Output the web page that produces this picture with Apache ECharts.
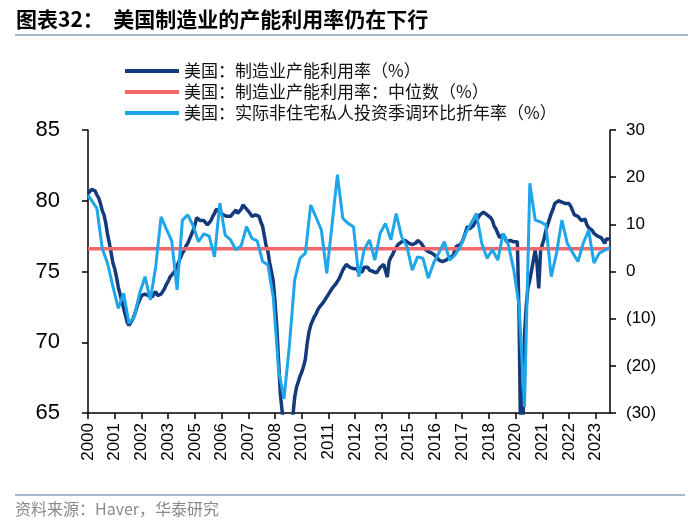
<!DOCTYPE html>
<html><head><meta charset="utf-8">
<script src="https://cdn.jsdelivr.net/npm/echarts@6/dist/echarts.min.js"></script>
<style>html,body{margin:0;padding:0;background:#fff}#c{width:700px;height:529px}</style>
</head><body><div id="c"></div>
<script>
// Monthly categories: 2000-01 .. 2024-06
const startYear = 2000;
const monthCount = 294;

// 美国：制造业产能利用率（%）, monthly, 2000-01 .. 2024-06
const capUtil = [
  80.5, 80.6, 80.8, 80.9, 80.7, 80.4, 80.2, 79.8, 79.3, 79.0, 78.4, 77.6,
  77.0, 76.3, 75.6, 75.2, 74.6, 73.9, 73.4, 72.9, 72.4, 71.9, 71.4, 71.2,
  71.3, 71.6, 71.9, 72.3, 72.7, 73.0, 73.3, 73.2, 73.4, 73.5, 73.3, 73.2,
  73.2, 73.4, 73.6, 73.3, 73.2, 73.4, 73.6, 73.8, 74.1, 74.3, 74.6, 74.7,
  74.9, 75.1, 75.4, 75.7, 76.0, 76.3, 76.5, 76.8, 77.0, 77.3, 77.6, 77.9,
  78.3, 78.8, 78.7, 78.6, 78.5, 78.6, 78.5, 78.3, 78.2, 78.6, 78.9, 79.1,
  79.4, 79.5, 79.2, 79.1, 79.0, 79.0, 78.9, 78.8, 78.9, 79.0, 79.2, 79.35,
  79.1, 79.2, 79.4, 79.7, 79.6, 79.4, 79.3, 79.1, 78.9, 78.9, 79.0, 79.1,
  78.9, 78.5, 78.2, 77.5, 76.8, 76.4, 75.6, 75.0, 74.3, 72.8, 71.0, 68.6,
  66.3, 65.1, 64.2, 63.7, 63.4, 63.5, 64.0, 64.8, 66.1, 66.8, 67.2, 67.6,
  67.9, 68.3, 68.8, 69.9, 70.7, 71.2, 71.5, 71.8, 72.0, 72.3, 72.5, 72.6,
  72.8, 72.9, 73.2, 73.4, 73.5, 73.8, 73.9, 74.1, 74.3, 74.5, 74.8, 75.1,
  75.3, 75.5, 75.4, 75.3, 75.3, 75.2, 75.1, 75.2, 74.9, 74.8, 75.0, 75.3,
  75.3, 75.3, 75.1, 75.2, 75.0, 74.9, 74.9, 75.1, 75.3, 75.2, 75.5, 75.4,
  74.6, 75.7, 76.0, 76.2, 76.5, 76.7, 76.9, 77.0, 77.1, 77.0, 77.2, 77.2,
  77.0, 76.9, 76.9, 77.0, 77.0, 77.2, 77.2, 77.0, 76.8, 76.6, 76.6, 76.4,
  76.5, 76.3, 76.2, 76.1, 76.0, 75.8, 75.8, 75.7, 75.7, 75.8, 75.9, 76.0,
  75.9, 76.1, 76.6, 76.8, 76.9, 76.9, 77.1, 77.4, 77.8, 78.2, 78.0, 78.1,
  78.2, 78.4, 78.6, 78.8, 79.0, 79.1, 79.2, 79.2, 79.0, 78.9, 78.8, 78.6,
  78.2, 78.0, 77.7, 77.4, 77.5, 77.6, 77.4, 77.1, 77.0, 77.2, 77.1, 77.1,
  77.1, 77.1, 71.5, 61.5, 63.0, 70.5, 72.6, 73.9, 74.4, 75.1, 75.8, 76.5,
  75.6, 73.8, 76.4, 76.9, 77.3, 77.9, 78.3, 78.7, 79.1, 79.4, 79.8, 79.7,
  80.0, 80.1, 79.9, 79.8, 79.8, 79.9, 79.8, 79.6, 79.5, 79.0, 78.9, 78.9,
  78.8, 78.6, 78.6, 78.7, 78.3, 78.1, 78.0, 77.9, 77.7, 77.6, 77.5, 77.4,
  77.4, 77.2, 77.0, 77.3, 77.2, 77.3
];

// 美国：制造业产能利用率：中位数（%）
const medianValue = 76.6;

// 美国：实际非住宅私人投资季调环比折年率（%）, quarterly, 2000Q1 .. 2024Q2
const investQ = [
  16.2, 13.4, 4.9, 1.7,
  -3.2, -7.8, -4.6, -11.0,
  -9.6, -4.6, -1.1, -6.0,
  1.0, 11.6, 9.0, 6.5,
  -3.9, 10.9, 12.0, 9.7,
  6.3, 8.0, 7.5, 3.1,
  14.5, 7.7, 6.7, 4.6,
  5.5, 9.5, 7.0, 6.5,
  2.1, 1.4, -5.5, -21.0,
  -27.0, -15.9, -1.8, 2.8,
  3.9, 14.1, 11.5, 8.8,
  -0.4, 10.0, 20.5, 11.3,
  10.2, 9.5, -1.1, 4.6,
  6.7, 2.4, 8.1, 10.2,
  6.7, 12.3, 7.4, 5.3,
  0.3, 3.1, 2.8, -1.4,
  1.8, 4.0, 6.3, 2.4,
  3.5, 5.3, 8.1, 10.2,
  12.3, 6.0, 2.8, 4.6,
  2.4, 8.1, 5.6, 0.3,
  -7.5, -28.7, 18.7, 10.9,
  10.5, 9.9, -1.1, 3.9,
  10.9, 6.0, 4.0, 2.1,
  6.0, 8.8, 1.8, 3.9,
  4.5, 5.1
];

const seriesNames = [
  '美国：制造业产能利用率（%）',
  '美国：制造业产能利用率：中位数（%）',
  '美国：实际非住宅私人投资季调环比折年率（%）'
];

const months = [];
for (let i = 0; i < monthCount; i++) {
  const y = startYear + Math.floor(i / 12);
  const m = i % 12 + 1;
  months.push(y + '-' + (m < 10 ? '0' : '') + m);
}
// quarterly values sit at quarter-end months; the first quarter starts at the axis origin
const investData = months.map(() => null);
investQ.forEach((v, q) => { investData[q === 0 ? 0 : 3 * q + 2] = v; });
const medianData = months.map(() => medianValue);

const numFont = 'Liberation Sans, Arial, sans-serif';
const cjkFont = 'Noto Sans CJK SC, sans-serif';
const C_DARK = '#143a7b', C_RED = '#f4676a', C_LIGHT = '#1ea5ea';

const chart = echarts.init(document.getElementById('c'), null, {renderer: 'canvas'});
chart.setOption({
  animation: false,
  backgroundColor: '#fff',
  title: {
    text: '图表32：  美国制造业的产能利用率仍在下行',
    left: 16, top: 9, padding: 0,
    textStyle: {fontSize: 21, fontWeight: 'bold', fontFamily: cjkFont, color: '#000'}
  },
  graphic: [
    {type: 'line', shape: {x1: 15, y1: 35, x2: 688, y2: 35}, style: {stroke: '#8aa0bb', lineWidth: 1.5}},
    {type: 'line', shape: {x1: 15, y1: 495, x2: 685, y2: 495}, style: {stroke: '#8aa0bb', lineWidth: 1.5}},
    {type: 'text', left: 15, top: 501, style: {text: '资料来源：Haver，华泰研究', fontSize: 16, fontFamily: cjkFont, fill: '#8a8a8a'}}
  ],
  legend: {
    orient: 'vertical', left: 120, top: 57,
    itemWidth: 54, itemHeight: 4, itemGap: 3, icon: 'rect',
    textStyle: {fontSize: 17, fontFamily: cjkFont, color: '#111', lineHeight: 18},
    data: seriesNames
  },
  grid: {left: 88, right: 90, top: 130, bottom: 116, containLabel: false},
  xAxis: {
    type: 'category', data: months, boundaryGap: false,
    axisLine: {show: true, onZero: false, lineStyle: {color: '#000', width: 1.5}},
    axisTick: {show: true, interval: 14, length: 6, lineStyle: {color: '#000', width: 1.5}},
    axisLabel: {interval: 14, rotate: 90, margin: 10, fontSize: 17, fontFamily: numFont, color: '#000',
      formatter: v => v.slice(0, 4)},
    splitLine: {show: false}
  },
  yAxis: [
    {
      type: 'value', min: 65, max: 85, interval: 5, position: 'left',
      axisLine: {show: true, lineStyle: {color: '#000', width: 1.5}},
      axisTick: {show: true, length: 6, lineStyle: {color: '#000', width: 1.5}},
      axisLabel: {margin: 28, fontSize: 22, fontFamily: numFont, color: '#000'},
      splitLine: {show: false}
    },
    {
      type: 'value', min: -30, max: 30, interval: 10, position: 'right',
      axisLine: {show: true, lineStyle: {color: '#000', width: 1.5}},
      axisTick: {show: true, length: 6, lineStyle: {color: '#000', width: 1.5}},
      axisLabel: {margin: 16, fontSize: 17, fontFamily: numFont, color: '#000',
        formatter: v => v < 0 ? '(' + (-v) + ')' : String(v)},
      splitLine: {show: false}
    }
  ],
  series: [
    {name: seriesNames[0], type: 'line', data: capUtil, yAxisIndex: 0, showSymbol: false, symbol: 'none',
      itemStyle: {color: C_DARK}, lineStyle: {color: C_DARK, width: 3.5}, z: 2},
    {name: seriesNames[1], type: 'line', data: medianData, yAxisIndex: 0, showSymbol: false, symbol: 'none',
      itemStyle: {color: C_RED}, lineStyle: {color: C_RED, width: 3.5}, z: 3},
    {name: seriesNames[2], type: 'line', data: investData, yAxisIndex: 1, connectNulls: true, showSymbol: false, symbol: 'none',
      itemStyle: {color: C_LIGHT}, lineStyle: {color: C_LIGHT, width: 3}, z: 4}
  ]
});
</script>
</body></html>
